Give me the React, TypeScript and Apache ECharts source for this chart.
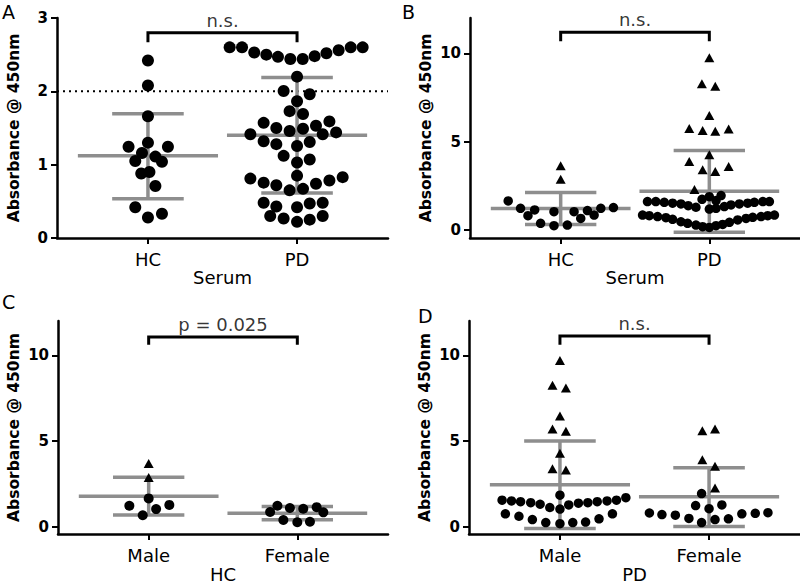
import React, { useEffect, useRef } from 'react';
import * as echarts from 'echarts';

// ---------- text ----------
const SERUM_GROUPS = ['HC', 'PD'];
const SEX_GROUPS = ['Male', 'Female'];
const Y_TITLE = 'Absorbance @ 450nm';
const PANEL_LETTERS = ['A', 'B', 'C', 'D'];
const X_TITLES = ['Serum', 'Serum', 'HC', 'PD'];
const SIG_LABELS = ['n.s.', 'n.s.', 'p = 0.025', 'n.s.'];

// ---------- axis ticks ----------
const A_Y_TICKS = [0, 1, 2, 3];
const BCD_Y_TICKS = [0, 5, 10];
const GROUP_POSITIONS = [1, 2];

// ---------- data: [offset within swarm, absorbance] ----------
// Panel A (Serum, HC vs PD)
const A_HC_DOTS: [number, number][] = [
  [0, 2.42], [0, 2.08], [0, 1.66], [0, 1.3], [-0.13, 1.245], [0.134, 1.245], [-0.04, 1.16], [0.05, 1.11],
  [-0.085, 1.05], [0.094, 1.04], [-0.045, 0.88], [0.01, 0.9], [0.05, 0.71], [-0.085, 0.42], [0.094, 0.33], [0, 0.28],
];
const A_PD_DOTS: [number, number][] = [
  [-0.452, 2.6], [-0.369, 2.6], [-0.287, 2.53], [-0.206, 2.5], [-0.128, 2.47], [-0.045, 2.44], [0.038, 2.44],
  [0.118, 2.48], [0.197, 2.52], [0.279, 2.56], [0.36, 2.6], [0.44, 2.6],
  [0, 2.2], [-0.09, 2.005], [0.085, 1.96], [0, 1.865], [-0.05, 1.73], [0.04, 1.69],
  [-0.224, 1.57], [-0.139, 1.5], [-0.05, 1.46], [0.04, 1.49], [0.127, 1.53], [0.217, 1.59],
  [-0.313, 1.415], [0.172, 1.415], [0.262, 1.44],
  [-0.224, 1.32], [-0.139, 1.28], [0, 1.255], [0.085, 1.31],
  [-0.09, 1.12], [0.085, 1.07], [0, 1.03], [0, 0.85],
  [-0.313, 0.81], [-0.224, 0.755], [-0.139, 0.72], [-0.05, 0.65], [0.04, 0.67], [0.127, 0.74], [0.217, 0.785], [0.306, 0.83],
  [-0.224, 0.48], [-0.139, 0.43], [0, 0.42], [0.085, 0.47], [0.172, 0.48],
  [-0.18, 0.3], [-0.09, 0.265], [0, 0.22], [0.085, 0.25], [0.172, 0.3],
];
// [mean, lower, upper]
const A_STATS: [number, number, number][] = [[1.12, 0.535, 1.695], [1.4, 0.615, 2.19]];
const A_BRACKET = { top: 2.8, foot: 2.67 };
const A_THRESHOLD = 2;

// Panel B (Serum, HC vs PD, full range)
const B_HC_DOTS: [number, number][] = [
  [-0.353, 1.65], [-0.27, 1.23], [-0.22, 0.81], [-0.175, 1.14], [-0.135, 0.38], [-0.045, 1.04], [-0.045, 0.245],
  [0.045, 0.28], [0.09, 1.04], [0.135, 0.66], [0.18, 1.1], [0.225, 0.85], [0.27, 1.23], [0.355, 1.27],
];
const B_HC_TRIS: [number, number][] = [[0, 3.64], [0, 2.88]];
const B_PD_DOTS: [number, number][] = [
  [-0.049, 1.74], [0, 1.89], [0.045, 1.67], [0.079, 1.95], [0, 1.19],
  [-0.416, 1.61], [-0.36, 1.61], [-0.303, 1.57], [-0.247, 1.52], [-0.191, 1.48], [-0.142, 1.38], [-0.09, 1.29],
  [0.045, 1.23], [0.101, 1.33], [0.146, 1.42], [0.202, 1.48], [0.258, 1.52], [0.303, 1.57], [0.36, 1.61], [0.404, 1.61],
  [-0.449, 0.85], [-0.404, 0.81], [-0.348, 0.76], [-0.292, 0.7], [-0.247, 0.61], [-0.191, 0.47], [-0.146, 0.38],
  [-0.09, 0.28], [-0.045, 0.19], [0, 0.15], [0.045, 0.25], [0.09, 0.32], [0.135, 0.44], [0.191, 0.57], [0.247, 0.66],
  [0.292, 0.72], [0.348, 0.76], [0.393, 0.81], [0.438, 0.85],
];
const B_PD_TRIS: [number, number][] = [
  [0, 9.75], [-0.05, 8.28], [0.04, 8.14], [0, 6.48], [-0.135, 5.74], [-0.045, 5.63], [0.04, 5.59], [0.13, 5.72],
  [0, 4.26], [-0.135, 3.88], [-0.045, 3.41], [0.04, 3.31], [0.13, 3.6], [-0.1, 2.29],
];
const B_STATS: [number, number, number][] = [[1.22, 0.32, 2.13], [2.2, -0.12, 4.5]];
const B_BRACKET = { top: 11.2, foot: 10.68 };

// Panel C (HC by sex)
const C_MALE_DOTS: [number, number][] = [[0, 1.66], [-0.13, 1.23], [0.139, 1.28], [0.05, 1.04], [-0.04, 0.68]];
const C_MALE_TRIS: [number, number][] = [[0, 3.69], [0, 2.88]];
const C_FEMALE_DOTS: [number, number][] = [
  [-0.134, 1.23], [-0.183, 0.87], [-0.05, 1.1], [0.04, 1.06], [0.13, 1.15], [0.175, 0.85], [-0.094, 0.4], [0, 0.27], [0.085, 0.3],
];
const C_STATS: [number, number, number][] = [[1.79, 0.69, 2.89], [0.8, 0.42, 1.19]];
const C_BRACKET = { top: 11.07, foot: 10.62 };

// Panel D (PD by sex)
const D_MALE_DOTS: [number, number][] = [
  [-0.388, 1.56], [-0.325, 1.51], [-0.264, 1.47], [-0.196, 1.41], [-0.133, 1.32], [-0.068, 1.13], [0, 1.85], [0, 1.04],
  [0.059, 1.28], [0.124, 1.38], [0.187, 1.41], [0.25, 1.47], [0.316, 1.51], [0.379, 1.56], [0.442, 1.7],
  [-0.366, 0.76], [-0.275, 0.62], [-0.185, 0.43], [-0.095, 0.25], [0, 0.19], [0.086, 0.25], [0.172, 0.28], [0.262, 0.47], [0.352, 0.76],
];
const D_MALE_TRIS: [number, number][] = [
  [0, 9.7], [-0.05, 8.25], [0.04, 8.1], [0, 6.46], [-0.05, 5.71], [0.04, 5.57], [0, 4.29], [-0.05, 3.39], [0.04, 3.31],
];
const D_FEMALE_DOTS: [number, number][] = [
  [-0.05, 1.94], [-0.09, 1.24], [0, 1.06], [0.086, 1.28], [-0.4, 0.81], [-0.316, 0.72], [-0.226, 0.68], [-0.135, 0.49],
  [-0.05, 0.25], [0.04, 0.43], [0.13, 0.47], [0.22, 0.76], [0.31, 0.79], [0.395, 0.83],
];
const D_FEMALE_TRIS: [number, number][] = [[-0.045, 5.61], [0.04, 5.71], [-0.045, 3.92], [0.04, 3.54], [0.04, 2.26]];
const D_STATS: [number, number, number][] = [[2.45, -0.1, 5.0], [1.75, 0.02, 3.45]];
const D_BRACKET = { top: 11.13, foot: 10.62 };

// ---------- styling ----------
const FONT = 'DejaVu Sans';
const GRAY = '#8e8e8e';
const X_MIN = 0.39;
const X_MAX = 2.61;
const MEAN_HALF = 0.47;
const CAP_HALF = 0.24;

type Group = { dots: [number, number][]; tris: [number, number][]; stats: [number, number, number] };
type Panel = {
  cats: string[];
  yMin: number;
  yMax: number;
  yTicks: number[];
  groups: Group[];
  bracket: { top: number; foot: number };
  dotSize: number;
  threshold?: number;
  grid: { left: number; top: number; width: number; height: number };
  nameGap: number;
};

const PANELS: Panel[] = [
  {
    cats: SERUM_GROUPS, yMin: 0, yMax: 3, yTicks: A_Y_TICKS, dotSize: 12, threshold: A_THRESHOLD,
    groups: [
      { dots: A_HC_DOTS, tris: [], stats: A_STATS[0] },
      { dots: A_PD_DOTS, tris: [], stats: A_STATS[1] },
    ],
    bracket: A_BRACKET, grid: { left: 57, top: 18, width: 331, height: 220 }, nameGap: 35,
  },
  {
    cats: SERUM_GROUPS, yMin: -0.45, yMax: 12, yTicks: BCD_Y_TICKS, dotSize: 9.5,
    groups: [
      { dots: B_HC_DOTS, tris: B_HC_TRIS, stats: B_STATS[0] },
      { dots: B_PD_DOTS, tris: B_PD_TRIS, stats: B_STATS[1] },
    ],
    bracket: B_BRACKET, grid: { left: 470, top: 18, width: 330, height: 220 }, nameGap: 36,
  },
  {
    cats: SEX_GROUPS, yMin: -0.42, yMax: 12, yTicks: BCD_Y_TICKS, dotSize: 10,
    groups: [
      { dots: C_MALE_DOTS, tris: C_MALE_TRIS, stats: C_STATS[0] },
      { dots: C_FEMALE_DOTS, tris: [], stats: C_STATS[1] },
    ],
    bracket: C_BRACKET, grid: { left: 58, top: 321, width: 330, height: 219 }, nameGap: 36,
  },
  {
    cats: SEX_GROUPS, yMin: -0.42, yMax: 12, yTicks: BCD_Y_TICKS, dotSize: 9.5,
    groups: [
      { dots: D_MALE_DOTS, tris: D_MALE_TRIS, stats: D_STATS[0] },
      { dots: D_FEMALE_DOTS, tris: D_FEMALE_TRIS, stats: D_STATS[1] },
    ],
    bracket: D_BRACKET, grid: { left: 469, top: 321, width: 331, height: 219 }, nameGap: 36,
  },
];

const LETTER_POS = [
  { left: 2, top: 2 },
  { left: 402, top: 2 },
  { left: 2, top: 292 },
  { left: 418, top: 306 },
];

function buildOption() {
  const grid: any[] = [];
  const xAxis: any[] = [];
  const yAxis: any[] = [];
  const series: any[] = [];

  PANELS.forEach((p, i) => {
    grid.push({ ...p.grid });
    xAxis.push({
      type: 'value', gridIndex: i, min: X_MIN, max: X_MAX,
      name: X_TITLES[i], nameLocation: 'middle', nameGap: 27,
      nameTextStyle: { fontFamily: FONT, fontSize: 18, color: '#000' },
      axisLine: { onZero: false, lineStyle: { color: '#000', width: 2.5 } },
      axisTick: { show: true, customValues: GROUP_POSITIONS, length: 6, lineStyle: { color: '#000', width: 2 } },
      axisLabel: {
        customValues: GROUP_POSITIONS, margin: 12, fontFamily: FONT, fontSize: 18, color: '#000',
        formatter: (v: number) => p.cats[Math.round(v) - 1] ?? '',
      },
      splitLine: { show: false },
    });
    yAxis.push({
      type: 'value', gridIndex: i, min: p.yMin, max: p.yMax,
      name: Y_TITLE, nameLocation: 'middle', nameGap: p.nameGap,
      nameTextStyle: { fontFamily: FONT, fontSize: 15.5, fontWeight: 'bold', color: '#000' },
      axisLine: { show: true, onZero: false, lineStyle: { color: '#000', width: 2.5 } },
      axisTick: { show: true, customValues: p.yTicks, length: 6, lineStyle: { color: '#000', width: 2 } },
      axisLabel: { customValues: p.yTicks, margin: 9, fontFamily: FONT, fontSize: 15, fontWeight: 'bold', color: '#000' },
      splitLine: { show: false },
    });

    if (p.threshold !== undefined) {
      series.push({
        type: 'line', xAxisIndex: i, yAxisIndex: i, symbol: 'none', silent: true,
        data: [[X_MIN, p.threshold], [X_MAX, p.threshold]],
        lineStyle: { color: '#000', width: 2, type: [2, 4] },
        z: 1,
      });
    }

    // error bars (mean ± SD)
    series.push({
      type: 'custom', xAxisIndex: i, yAxisIndex: i, silent: true, z: 2,
      data: p.groups.map((g, gi) => [GROUP_POSITIONS[gi], g.stats[0], g.stats[1], g.stats[2]]),
      encode: { x: 0, y: [1, 2, 3] },
      renderItem: (_params: any, api: any) => {
        const c = api.value(0), m = api.value(1), lo = api.value(2), hi = api.value(3);
        const seg = (x1: number, y1: number, x2: number, y2: number) => {
          const a = api.coord([x1, y1]);
          const b = api.coord([x2, y2]);
          return { type: 'line', shape: { x1: a[0], y1: a[1], x2: b[0], y2: b[1] }, style: { stroke: GRAY, lineWidth: 3.5 } };
        };
        return {
          type: 'group',
          children: [
            seg(c, lo, c, hi),
            seg(c - MEAN_HALF, m, c + MEAN_HALF, m),
            seg(c - CAP_HALF, lo, c + CAP_HALF, lo),
            seg(c - CAP_HALF, hi, c + CAP_HALF, hi),
          ],
        };
      },
    });

    // points
    p.groups.forEach((g, gi) => {
      const center = GROUP_POSITIONS[gi];
      series.push({
        type: 'scatter', xAxisIndex: i, yAxisIndex: i, silent: true, z: 3,
        symbol: 'circle', symbolSize: p.dotSize, itemStyle: { color: '#000', opacity: 1 },
        data: g.dots.map(([dx, v]) => [center + dx, v]),
      });
      if (g.tris.length) {
        series.push({
          type: 'scatter', xAxisIndex: i, yAxisIndex: i, silent: true, z: 3,
          symbol: 'triangle', symbolSize: [10, 9], itemStyle: { color: '#000', opacity: 1 },
          data: g.tris.map(([dx, v]) => [center + dx, v]),
        });
      }
    });

    // significance bracket
    series.push({
      type: 'line', xAxisIndex: i, yAxisIndex: i, symbol: 'none', silent: true, z: 4,
      data: [
        [GROUP_POSITIONS[0], p.bracket.foot], [GROUP_POSITIONS[0], p.bracket.top],
        [GROUP_POSITIONS[1], p.bracket.top], [GROUP_POSITIONS[1], p.bracket.foot],
      ],
      lineStyle: { color: '#000', width: 3, cap: 'butt', join: 'miter' },
    });
    series.push({
      type: 'scatter', xAxisIndex: i, yAxisIndex: i, silent: true, z: 4,
      symbolSize: 1, itemStyle: { color: 'rgba(0,0,0,0)' },
      data: [[(GROUP_POSITIONS[0] + GROUP_POSITIONS[1]) / 2, p.bracket.top]],
      label: {
        show: true, position: 'top', distance: 3, formatter: SIG_LABELS[i],
        fontFamily: FONT, fontSize: 18, color: '#000',
      },
    });
  });

  const graphic = PANEL_LETTERS.map((t, i) => ({
    type: 'text', left: LETTER_POS[i].left, top: LETTER_POS[i].top,
    style: { text: t, fontFamily: FONT, fontSize: 19, fill: '#000' },
  }));

  return {
    animation: false,
    backgroundColor: '#fff',
    grid, xAxis, yAxis, series, graphic,
  };
}

export default function App() {
  const ref = useRef<HTMLDivElement>(null);
  useEffect(() => {
    if (!ref.current) return;
    const chart = echarts.init(ref.current, undefined, { renderer: 'svg' });
    chart.setOption(buildOption() as any);
    return () => chart.dispose();
  }, []);
  return <div ref={ref} style={{ position: 'fixed', left: 0, top: 0, width: 800, height: 584, background: '#fff' }} />;
}
